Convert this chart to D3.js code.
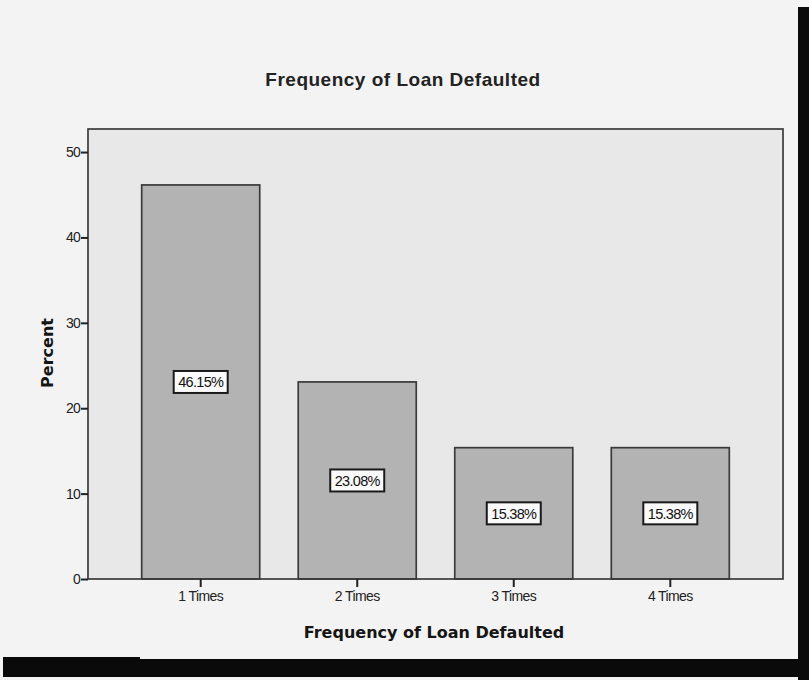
<!DOCTYPE html>
<html>
<head>
<meta charset="utf-8">
<script src="https://cdn.jsdelivr.net/npm/d3@7"></script>
<style>
  html, body { margin: 0; padding: 0; background: #f3f3f3; overflow: hidden; }
  svg { display: block; }
</style>
</head>
<body>
<script>
// Frequency of loan default, percent of respondents
const categories = ["1 Times", "2 Times", "3 Times", "4 Times"];
const percents = [46.15, 23.08, 15.38, 15.38];
const yTicks = [0, 10, 20, 30, 40, 50];
const chartTitle = "Frequency of Loan Defaulted";
const xTitle = "Frequency of Loan Defaulted";
const yTitle = "Percent";

const W = 809, H = 680;
const plot = { left: 88, right: 783, top: 129, bottom: 579 };

const svg = d3.select("body").append("svg")
  .attr("width", W).attr("height", H)
  .attr("viewBox", `0 0 ${W} ${H}`);

// page background
svg.append("rect").attr("width", W).attr("height", H).attr("fill", "#f3f3f3");

// dark strips along the right and bottom edges
svg.append("rect").attr("x", 798).attr("y", 7).attr("width", 11).attr("height", 673).attr("fill", "#0a0a0a");
svg.append("rect").attr("x", 3).attr("y", 659).attr("width", 806).attr("height", 18).attr("fill", "#0a0a0a");
svg.append("rect").attr("x", 3).attr("y", 657).attr("width", 137).attr("height", 4).attr("fill", "#0a0a0a");

const x = d3.scaleBand()
  .domain(categories)
  .range([plot.left, plot.right])
  .paddingInner(0.246)
  .paddingOuter(0.343);

const y = d3.scaleLinear()
  .domain([0, 52.7])
  .range([plot.bottom, plot.top]);

// plot area
svg.append("rect")
  .attr("x", plot.left).attr("y", plot.top)
  .attr("width", plot.right - plot.left).attr("height", plot.bottom - plot.top)
  .attr("fill", "#e8e8e8");

// bars
svg.append("g").selectAll("rect")
  .data(categories)
  .join("rect")
  .attr("x", d => x(d))
  .attr("y", (d, i) => y(percents[i]))
  .attr("width", x.bandwidth())
  .attr("height", (d, i) => y(0) - y(percents[i]))
  .attr("fill", "#b3b3b3")
  .attr("stroke", "#3a3a3a")
  .attr("stroke-width", 1.7);

// frame
svg.append("rect")
  .attr("x", plot.left).attr("y", plot.top)
  .attr("width", plot.right - plot.left).attr("height", plot.bottom - plot.top)
  .attr("fill", "none")
  .attr("stroke", "#3a3a3a")
  .attr("stroke-width", 1.7);

// value labels in boxes at bar middles
const labels = svg.append("g").selectAll("g")
  .data(categories)
  .join("g")
  .attr("transform", (d, i) =>
    `translate(${x(d) + x.bandwidth() / 2},${(y(percents[i]) + y(0)) / 2})`);

labels.append("rect")
  .attr("x", -27).attr("y", -11)
  .attr("width", 54).attr("height", 22)
  .attr("fill", "#fafafa")
  .attr("stroke", "#1a1a1a")
  .attr("stroke-width", 2);

labels.append("text")
  .attr("text-anchor", "middle")
  .attr("dy", "0.36em")
  .attr("font-family", "'Liberation Sans', Arial, sans-serif")
  .attr("font-size", 14.5)
  .attr("letter-spacing", -0.7)
  .attr("fill", "#111")
  .text((d, i) => percents[i].toFixed(2) + "%");

// y axis
const yAxis = svg.append("g")
  .attr("transform", `translate(${plot.left},0)`)
  .call(d3.axisLeft(y).tickValues(yTicks).tickSize(7).tickSizeOuter(0).tickPadding(1));
yAxis.select(".domain").remove();
yAxis.selectAll(".tick line").attr("stroke", "#222").attr("stroke-width", 2);
yAxis.selectAll(".tick text")
  .attr("font-family", "'Liberation Sans', Arial, sans-serif")
  .attr("font-size", 14)
  .attr("letter-spacing", -0.8)
  .attr("fill", "#222");

// x axis
const xAxis = svg.append("g")
  .attr("transform", `translate(0,${plot.bottom})`)
  .call(d3.axisBottom(x).tickSize(8).tickSizeOuter(0).tickPadding(4));
xAxis.select(".domain").remove();
xAxis.selectAll(".tick line").attr("stroke", "#222").attr("stroke-width", 2);
xAxis.selectAll(".tick text")
  .attr("font-family", "'Liberation Sans', Arial, sans-serif")
  .attr("font-size", 14)
  .attr("letter-spacing", -0.6)
  .attr("fill", "#222");

// titles
svg.append("text")
  .attr("x", 403).attr("y", 86)
  .attr("text-anchor", "middle")
  .attr("font-family", "'Liberation Sans', Arial, sans-serif")
  .attr("font-weight", "bold")
  .attr("font-size", 19)
  .attr("letter-spacing", 0.5)
  .attr("fill", "#222")
  .text(chartTitle);

svg.append("text")
  .attr("x", 434).attr("y", 638)
  .attr("text-anchor", "middle")
  .attr("font-family", "'DejaVu Sans', sans-serif")
  .attr("font-weight", "bold")
  .attr("font-size", 16)
  .attr("fill", "#151515")
  .text(xTitle);

svg.append("text")
  .attr("transform", "translate(53,353) rotate(-90)")
  .attr("text-anchor", "middle")
  .attr("font-family", "'DejaVu Sans', sans-serif")
  .attr("font-weight", "bold")
  .attr("font-size", 16)
  .attr("fill", "#151515")
  .text(yTitle);
</script>
</body>
</html>
